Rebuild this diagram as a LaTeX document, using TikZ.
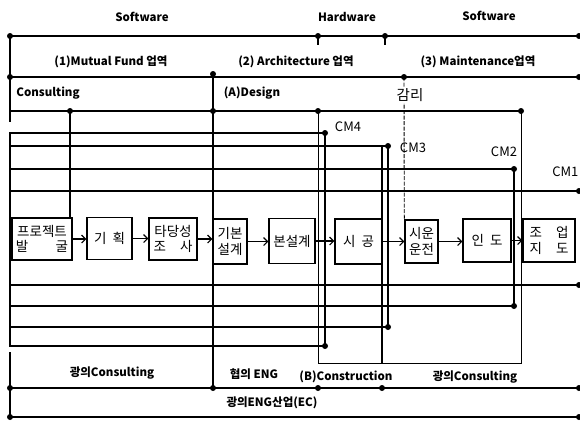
\documentclass[tikz,border=0pt]{standalone}
\usepackage{fontspec}
\setmainfont{Noto Sans CJK KR}
\usetikzlibrary{arrows.meta}

\begin{document}
\begin{tikzpicture}[
    x=1pt, y=-1pt, line width=1.1pt,
    >={Straight Barb[length=4pt,width=8pt]},
    stage/.style={rectangle, draw, line width=1.4pt, minimum width=45, minimum height=42, inner sep=1pt, align=center, font=\fontsize{13.5}{15.5}\selectfont},
    band/.style={font=\fontsize{11.5}{13}\selectfont\bfseries, inner sep=1pt},
    cmlabel/.style={font=\fontsize{13}{15}\selectfont, inner sep=1pt},
    cmline/.style={line width=1.6pt},
    dot/.style={circle, fill=black, draw=none, inner sep=0pt, minimum size=6pt}
]
\useasboundingbox (0,0) rectangle (580,421);

% Top bands
\node[band] (swleft) at (142,17) {Software};
\node[band] (hw) at (347,17) {Hardware};
\node[band] (swright) at (489,16) {Software};
\node[dot] (topL) at (10,36) {};
\node[dot] (topR) at (579,36) {};
\node[dot] (hwL) at (318,36) {};
\node[dot] (hwR) at (385,36) {};
\draw (topL.center) -- (topR.center);
\draw (hwL.center) -- ++(0,9);
\draw (hwR.center) -- ++(0,9);

\node[band] (zone1) at (111,62) {(1)Mutual Fund 업역};
\node[band] (zone2) at (296,62) {(2) Architecture 업역};
\node[band] (zone3) at (478,62) {(3) Maintenance업역};
\node[dot] (zoneL) at (10,77) {};
\node[dot] (zoneR) at (579,77) {};
\node[dot] (designTop) at (213,74) {};
\node[dot] (superTop) at (404,77) {};
\draw (zoneL.center) -- (zoneR.center);
\coordinate (consEnd) at (10,122);
\draw (topL.center) -- (consEnd);

\node[band] (consult) at (48,93) {Consulting};
\node[band] (design) at (252,93) {(A)Design};
\coordinate (consL) at (10,111);
\node[dot] (consDot) at (70,111) {};
\node[dot] (designDot) at (213,111) {};
\node[dot] (superTL) at (318,111) {};
\node[dot] (superTR) at (521,111) {};
\draw (consL) -- (superTR.center);

% Process stages
\node[stage, minimum width=60] (discover) at (42,239) {프로젝트\\\makebox[52pt][s]{발 굴}};
\node[stage] (plan) at (109.5,238.5) {기\ \ 획};
\node[stage, minimum width=48] (feasible) at (173,239) {타당성\\\makebox[39pt][s]{조 사}};
\node[stage, minimum width=34, minimum height=45] (basicdes) at (230,241.5) {기본\\설계};
\node[stage, minimum width=46, minimum height=45] (detaildes) at (292,241) {본설계};
\node[stage, minimum width=47, minimum height=45] (construct) at (358.5,241.5) {시\ \ 공};
\node[stage, minimum width=33, minimum height=43] (trialrun) at (421.5,241.5) {시운\\운전};
\node[stage, minimum width=48, minimum height=43] (handover) at (487,240.5) {인\ \ 도};
\node[stage, minimum width=52, minimum height=43] (opguide) at (549,240.5) {\makebox[39pt][s]{조 업}\\\makebox[39pt][s]{지 도}};

\draw[->] (discover.east) -- (discover.east -| plan.west);
\draw[->] (plan.east) -- (plan.east -| feasible.west);
\draw[->] (feasible.east) -- (feasible.east -| basicdes.west);
\draw[->] (basicdes.east) -- (basicdes.east -| detaildes.west);
\draw[->] (detaildes.east) -- (detaildes.east -| construct.west);
\draw[->] (construct.east) -- (construct.east -| trialrun.west);
\draw[->] (trialrun.east) -- (trialrun.east -| handover.west);
\draw[->] (handover.east) -- (handover.east -| opguide.west);

% CM loops
\coordinate (frameT) at (10,133);
\coordinate (frameB) at (10,346);
\node[dot] (cm4) at (325,133) {};
\node[dot] (cm4b) at (325,346) {};
\node[dot] (cm3) at (388,146) {};
\node[dot] (cm3b) at (388,327) {};
\node[dot] (cm2) at (514,169) {};
\node[dot] (cm2b) at (514,306) {};
\node[dot] (cm1) at (579,191) {};
\node[dot] (cm1b) at (579,285) {};
\draw[cmline] (frameT) -- (cm4.center) -- (cm4b.center) -- (frameB) -- cycle;
\draw[cmline] (frameT |- cm3) -- (cm3.center) -- (cm3b.center) -- (frameT |- cm3b);
\draw[cmline] (frameT |- cm2) -- (cm2.center) -- (cm2b.center) -- (frameT |- cm2b);
\draw[cmline] (frameT |- cm1) -- (cm1.center);
\draw[cmline] (frameT |- cm1b) -- (cm1b.center);
\node[cmlabel] (cm4lab) at (348,127) {CM4};
\node[cmlabel] (cm3lab) at (413,148) {CM3};
\node[cmlabel] (cm2lab) at (504,152) {CM2};
\node[cmlabel, anchor=east] (cm1lab) at (580,172) {CM1};

% Vertical dividers
\coordinate (superBL) at (318,363);
\coordinate (superBR) at (521,363);
\coordinate (buildT) at (382,146);
\coordinate (buildB) at (382,363);
\node[dot] (engDot) at (213,388) {};
\draw (consDot.center) -- (consDot |- discover.north);
\draw (designTop.center) -- (engDot.center);
\draw[line width=0.9pt] (superTL.center) -- (superBL) -- (superBR) -- (superTR.center);
\draw (buildT) -- (buildB);
\draw[line width=0.9pt, dash pattern=on 4pt off 1.5pt] (superTop.center) -- (trialrun.north west);
\node[cmlabel, font=\fontsize{14.5}{16}\selectfont, fill=white] (supervise) at (410,95) {감리};

% Bottom bands
\node[band] (wideL) at (112,373) {광의Consulting};
\node[band] (narrow) at (254,374) {협의 ENG};
\node[band] (build) at (346,377) {(B)Construction};
\node[band] (wideR) at (475,377) {광의Consulting};
\node[band] (ec) at (272,403) {광의ENG산업(EC)};
\coordinate (bandTop) at (10,352);
\node[dot] (ecL) at (10,388) {};
\node[dot] (ecR) at (579,388) {};
\node[dot] (buildL) at (318,388) {};
\node[dot] (buildR) at (382,388) {};
\node[dot] (ecBL) at (10,417) {};
\node[dot] (ecBR) at (579,417) {};
\draw (ecL.center) -- (ecR.center);
\draw (ecBL.center) -- (ecBR.center);
\draw (bandTop) -- (ecBL.center);

\end{tikzpicture}
\end{document}
